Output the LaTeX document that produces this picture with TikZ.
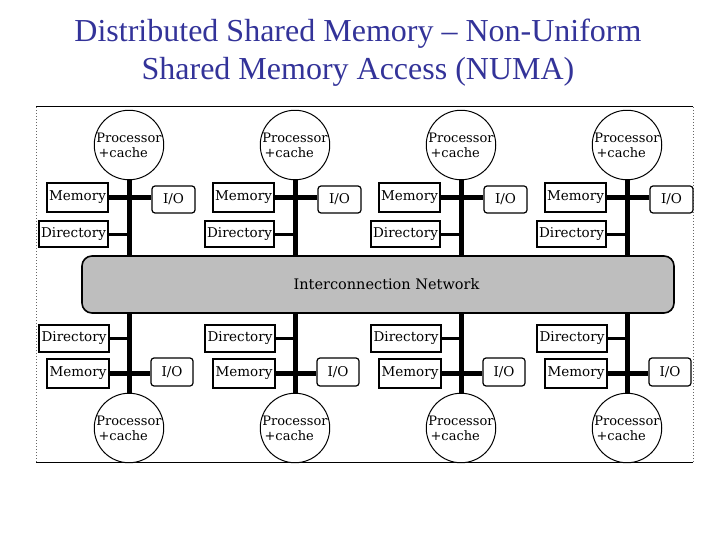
\documentclass[tikz,border=0pt]{standalone}
\usepackage{fontspec}
\setmainfont{Liberation Serif}
\newfontfamily\figfont{DejaVu Serif}
\definecolor{titleblue}{RGB}{51,51,153}
\definecolor{netgray}{RGB}{190,190,190}
\begin{document}
\begin{tikzpicture}[x=1pt,y=-1pt,
  box/.style={draw,line width=1.2pt,inner sep=0pt,font=\figfont\fontsize{13.5}{13.5}\selectfont,fill=white},
  iobox/.style={box,rounded corners=3pt},
  proc/.style={draw,circle,line width=1pt,minimum size=#1,inner sep=0pt,fill=white,
    font=\figfont\fontsize{13}{17}\selectfont,align=left},
  bus/.style={line width=5pt},
  memline/.style={line width=5pt},
  dirline/.style={line width=3pt},
  frameline/.style={line width=1pt},
  dotframe/.style={line width=1pt,black!60,dotted}]
\useasboundingbox (0,0) rectangle (720,540);
\node[font=\fontsize{32}{38}\selectfont,text=titleblue,align=center] (title) at (358,53)
  {Distributed Shared Memory -- Non-Uniform\\Shared Memory Access (NUMA)};
% frame of the embedded figure
\coordinate (fTL) at (36,107);
\coordinate (fTR) at (693,107);
\coordinate (fBL) at (36,462);
\coordinate (fBR) at (693,462);
\draw[frameline] (fTL) -- (fTR);
\draw[frameline] (fBL) -- (fBR);
\draw[dotframe] (fTL) -- (fBL);
\draw[dotframe] (fTR) -- (fBR);
% network
\node[draw,line width=1.6pt,fill=netgray,rounded corners=10pt,minimum width=592pt,minimum height=57pt,inner sep=0pt] (net) at (378,284.5) {};
\node[font=\figfont\fontsize{14.5}{14.5}\selectfont,inner sep=0pt] (netlabel) at (386.5,284) {Interconnection Network};
\foreach \i/\X in {1/129,2/295,3/461,4/627}{
  % top module
  \node[proc=66pt] (pT\i) at (\X,145) {Processor\\[-2pt]\,+cache};
  \coordinate (bT\i) at (\X,256);
  \draw[bus] (pT\i.south) -- (bT\i);
  \node[box,minimum width=61pt,minimum height=29pt] (mT\i) at (\X-51.5,197.5) {Memory};
  \node[iobox,minimum width=43pt,minimum height=27pt] (ioT\i) at (\X+44.5,199.5) {I/O};
  \node[box,minimum width=69pt,minimum height=26pt] (dT\i) at (\X-55.5,234) {Directory};
  \draw[memline] (mT\i.east) -- (mT\i.east -| ioT\i.west);
  \draw[dirline] (dT\i.east) -- (dT\i.east -| bT\i);
  % bottom module
  \node[proc=68pt] (pB\i) at (\X,428) {Processor\\[-2pt]\,+cache};
  \coordinate (bB\i) at (\X,313);
  \draw[bus] (bB\i) -- (pB\i.north);
  \node[box,minimum width=70pt,minimum height=27pt] (dB\i) at (\X-55,338.5) {Directory};
  \node[box,minimum width=62pt,minimum height=29pt] (mB\i) at (\X-51,373.5) {Memory};
  \node[iobox,minimum width=42pt,minimum height=28pt] (ioB\i) at (\X+43,372) {I/O};
  \draw[memline] (mB\i.east) -- (mB\i.east -| ioB\i.west);
  \draw[dirline] (dB\i.east) -- (dB\i.east -| bB\i);
}
\end{tikzpicture}
\end{document}
